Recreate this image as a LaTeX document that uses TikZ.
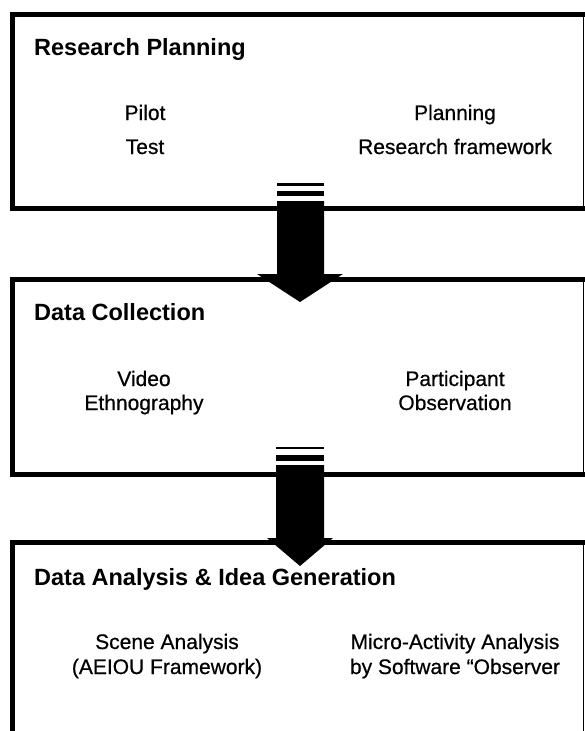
\documentclass[tikz,border=0pt]{standalone}
\usepackage{fontspec}
\setmainfont{Liberation Sans}
% slightly heavier face for the item labels
\newfontfamily\itemface[FakeBold=0.6]{Liberation Sans}
\begin{document}
\begin{tikzpicture}[x=1pt,y=-1pt,
  heavy/.style={line width=5pt,line join=miter,line cap=rect},
  light/.style={line width=1.5pt},
  heading/.style={anchor=base west,inner sep=0pt,font=\fontsize{23.5}{28}\selectfont\bfseries},
  item/.style={anchor=base,inner sep=0pt,font=\itemface\fontsize{21}{25}\selectfont},
  stage/.style={inner sep=0pt,minimum width=570.5pt},
]
\useasboundingbox (0,0) rectangle (585,731);

% ---- stage frames (thick top/left/bottom, thin right side) ----
\node[stage,minimum height=193.5pt,anchor=north west] (s1) at (12.5,14.5) {};
\node[stage,minimum height=194.5pt,anchor=north west] (s2) at (12.5,279.5) {};
\node[stage,minimum height=188.5pt,anchor=north west] (s3) at (12.5,542.5) {};

\draw[light] (s1.north east) -- (s1.south east);
\draw[heavy] ([xshift=4pt]s1.north east) -- (s1.north west) -- (s1.south west) -- ([xshift=4pt]s1.south east);

\draw[light] (s2.north east) -- (s2.south east);
\draw[heavy] ([xshift=4pt]s2.north east) -- (s2.north west) -- (s2.south west) -- ([xshift=4pt]s2.south east);

\draw[light] (s3.north east) -- ([yshift=-2pt]s3.south east);
\draw[heavy] ([xshift=4pt]s3.north east) -- (s3.north west) -- ([yshift=-4pt]s3.south west);

% ---- block arrows between stages ----
% arrow 1: speed stripes, shaft and head
\fill (277,183) rectangle (324,185.5);
\fill (277,191) rectangle (324,196);
\fill (277,201) -- (324,201) -- (324,274) -- (343,274) -- (300,302)
      -- (257,274) -- (277,274) -- cycle;
% arrow 2
\fill (276,446.5) rectangle (324,449);
\fill (276,455) rectangle (324,461);
\fill (276,465) -- (324,465) -- (324,538) -- (333,538) -- (300,566)
      -- (267,538) -- (276,538) -- cycle;

% ---- stage 1 ----
\node[heading] (h1) at (34,55) {Research Planning};
\node[item] (pilot)     at (145,120) {Pilot};
\node[item] (test)      at (145,154) {Test};
\node[item] (planning)  at (455,120) {Planning};
\node[item] (framework) at (455,154) {Research framework};

% ---- stage 2 ----
\node[heading] (h2) at (34,320) {Data Collection};
\node[item] (video)       at (144,386) {Video};
\node[item] (ethno)       at (144,410) {Ethnography};
\node[item] (participant) at (455,386) {Participant};
\node[item] (observation) at (455,410) {Observation};

% ---- stage 3 ----
\node[heading] (h3) at (34,585) {Data Analysis \& Idea Generation};
\node[item] (scene)    at (167,649) {Scene Analysis};
\node[item] (aeiou)    at (167,674) {(AEIOU Framework)};
\node[item] (micro)    at (455,649) {Micro-Activity Analysis};
\node[item] (observer) at (455,674) {by Software “Observer};
\end{tikzpicture}
\end{document}
